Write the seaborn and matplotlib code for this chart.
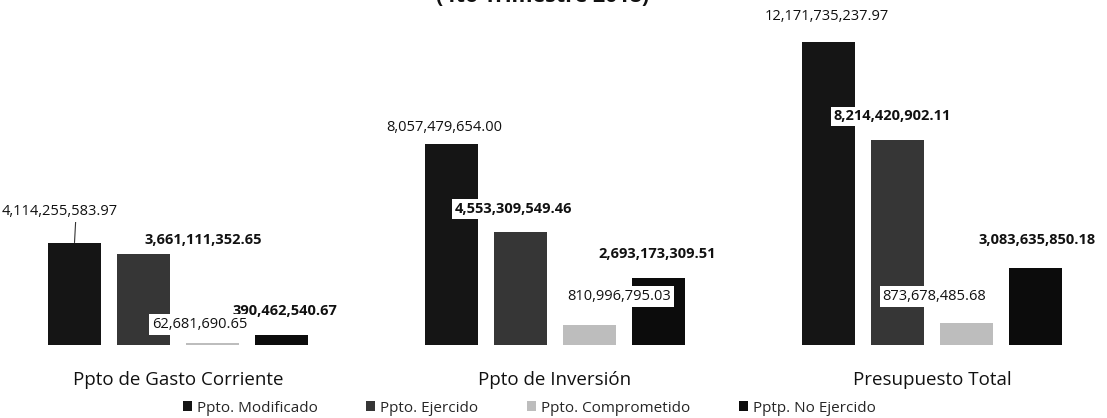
"""
Presupuesto 4to trimestre 2018: barras agrupadas por rubro
"""

import pandas as pd
import matplotlib.pyplot as plt
import seaborn as sns
from matplotlib.patches import Patch

# datos
rubros = ['Ppto de Gasto Corriente', 'Ppto de Inversión', 'Presupuesto Total']
conceptos = ['Ppto. Modificado', 'Ppto. Ejercido', 'Ppto. Comprometido', 'Pptp. No Ejercido']
modificado = [4114255583.97, 8057479654.00, 12171735237.97]
ejercido = [3661111352.65, 4553309549.46, 8214420902.11]
comprometido = [62681690.65, 810996795.03, 873678485.68]
no_ejercido = [390462540.67, 2693173309.51, 3083635850.18]

colores = ['#151515', '#363636', '#bdbdbd', '#0c0c0c']

# desplazamientos de etiquetas (pixeles) respecto a la parte superior de cada barra
offsets = [
    [(-15, 31), (-7, 17), (-2, 25)],   # modificado
    [(60, 14), (-7, 23), (-5, 24)],    # ejercido
    [(-13, 19), (30, 28), (-32, 27)],  # comprometido
    [(3, 24), (-1, 24), (2, 28)],      # no ejercido
]
negritas = [False, True, False, True]

series = [modificado, ejercido, comprometido, no_ejercido]
df = pd.DataFrame({
    'rubro': [r for s in series for r in rubros],
    'concepto': [c for c, s in zip(conceptos, series) for _ in s],
    'monto': [v for s in series for v in s],
})

sns.set_style('white')
plt.rcParams['font.family'] = ['Open Sans', 'DejaVu Sans']

fig = plt.figure(figsize=(11.07, 4.18), dpi=100)
ax = fig.add_axes([0, 1 - 345 / 418, 1, 315 / 418])

sns.barplot(data=df, x='rubro', y='monto', hue='concepto', order=rubros,
            hue_order=conceptos, palette=colores, saturation=1, width=0.732,
            gap=0.23, errorbar=None, legend=False, ax=ax, linewidth=0)

ax.set_xlim(-178 / 377, (1107 - 178) / 377)
ax.set_ylim(0, 12.65e9)
sns.despine(ax=ax, left=True, bottom=True)
ax.set_yticks([])
ax.set_xlabel('')
ax.set_ylabel('')
ax.tick_params(axis='x', length=0, pad=19, labelsize=13.5, labelcolor='#111111')

# etiquetas de valores
for i, cont in enumerate(ax.containers):
    for j, bar in enumerate(cont):
        cx = bar.get_x() + bar.get_width() / 2
        top = bar.get_height()
        dx, dy = offsets[i][j]
        kw = {}
        if i == 0 and j == 0:
            kw['arrowprops'] = dict(arrowstyle='-', color='#333333', lw=0.8,
                                    relpos=(0.64, 0), shrinkA=0, shrinkB=0)
        ax.annotate(f'{series[i][j]:,.2f}', xy=(cx, top), xytext=(dx, dy),
                    textcoords='offset pixels', ha='center', va='center',
                    fontsize=10.5, fontweight='bold' if negritas[i] else 'normal',
                    color='#111111', zorder=7 if i == 2 else 5,
                    annotation_clip=False,
                    bbox=dict(boxstyle='square,pad=0.2', fc='white', ec='none'),
                    **kw)

fig.text(0.49, 1.008, '(4to Trimestre 2018)', ha='center', va='center',
         fontsize=15.5, fontweight='bold', color='#111111')

handles = [Patch(facecolor=c, edgecolor='none', label=l) for c, l in zip(colores, conceptos)]
fig.legend(handles=handles, loc='center', bbox_to_anchor=(0.478, 1 - 408 / 418),
           ncol=4, frameon=False, fontsize=11, handlelength=0.6, handleheight=0.6,
           handletextpad=0.3, columnspacing=3.2)

plt.savefig('out.png', dpi=100)
